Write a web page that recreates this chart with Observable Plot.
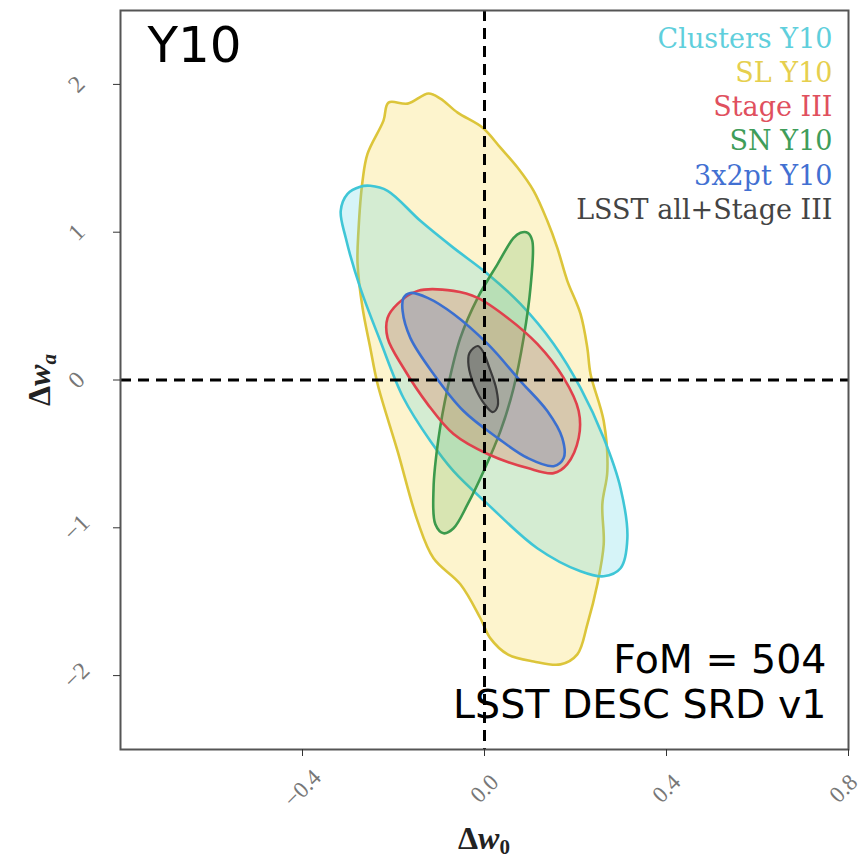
<!DOCTYPE html>
<html><head><meta charset="utf-8">
<script src="https://cdn.jsdelivr.net/npm/d3@7"></script>
<script src="https://cdn.jsdelivr.net/npm/@observablehq/plot@0.6"></script>
<style>body{margin:0;background:#fff} #chart{width:864px;height:861px}</style>
</head><body><div id="chart"></div>
<script>
// ---- data (Δw0, Δwa) contour outlines ----
const slY10 = [[-0.211,1.877],[-0.169,1.870],[-0.123,1.938],[-0.097,1.904],[-0.059,1.809],[-0.004,1.707],[0.035,1.572],[0.073,1.436],[0.108,1.280],[0.138,1.077],[0.160,0.894],[0.182,0.671],[0.211,0.447],[0.226,0.217],[0.233,0.041],[0.262,-0.278],[0.270,-0.617],[0.259,-0.840],[0.262,-1.111],[0.248,-1.382],[0.226,-1.653],[0.204,-1.856],[0.167,-1.924],[0.108,-1.904],[0.051,-1.856],[0.013,-1.748],[-0.009,-1.612],[-0.053,-1.382],[-0.112,-1.206],[-0.147,-0.955],[-0.191,-0.481],[-0.235,-0.027],[-0.251,0.217],[-0.268,0.488],[-0.279,0.786],[-0.277,1.009],[-0.268,1.348],[-0.257,1.531],[-0.222,1.755]];
const clustersY10 = [[-0.251,1.314],[-0.213,1.280],[-0.141,1.077],[-0.068,0.894],[0.007,0.718],[0.079,0.515],[0.152,0.244],[0.211,-0.054],[0.262,-0.393],[0.299,-0.732],[0.314,-1.070],[0.299,-1.274],[0.262,-1.328],[0.211,-1.294],[0.116,-1.138],[0.007,-0.840],[-0.068,-0.617],[-0.119,-0.413],[-0.178,-0.122],[-0.229,0.264],[-0.273,0.623],[-0.305,0.962],[-0.316,1.145],[-0.301,1.260],[-0.273,1.308]];
const snY10 = [[0.095,0.996],[0.105,0.942],[0.101,0.623],[0.086,0.285],[0.064,-0.054],[0.035,-0.346],[-0.002,-0.617],[-0.037,-0.840],[-0.068,-1.003],[-0.090,-1.037],[-0.108,-0.976],[-0.112,-0.732],[-0.101,-0.393],[-0.081,-0.054],[-0.053,0.285],[-0.015,0.556],[0.029,0.786],[0.064,0.962],[0.079,0.996]];
const stageIII = [[-0.213,0.420],[-0.191,0.515],[-0.147,0.603],[-0.068,0.603],[-0.015,0.556],[0.051,0.420],[0.116,0.244],[0.174,0.014],[0.207,-0.210],[0.207,-0.393],[0.182,-0.569],[0.152,-0.630],[0.095,-0.596],[0.007,-0.501],[-0.068,-0.366],[-0.125,-0.163],[-0.178,0.081],[-0.213,0.285]];
const x2ptY10 = [[-0.163,0.589],[-0.178,0.556],[-0.180,0.467],[-0.163,0.285],[-0.112,0.041],[-0.046,-0.210],[0.029,-0.393],[0.095,-0.528],[0.152,-0.583],[0.174,-0.528],[0.171,-0.393],[0.138,-0.210],[0.079,-0.007],[0.007,0.244],[-0.068,0.447],[-0.125,0.556]];
const lsstAll = [[-0.015,0.230],[-0.033,0.183],[-0.035,0.095],[-0.022,-0.041],[0.000,-0.163],[0.018,-0.217],[0.029,-0.176],[0.026,-0.061],[0.011,0.081],[-0.004,0.196]];

const drawOrder = [slY10, clustersY10, snY10, stageIII, x2ptY10, lsstAll];
const strokeColors = ["#dcc53a", "#3fc6d6", "#3c9a4c", "#e0414c", "#3b6fcf", "#3a3a3a"];
const fillColors   = ["#f7dc5a", "#5ad2e2", "#55b050", "#e05a40", "#4a62c0", "#505050"];
const fillOpacities = [0.3, 0.25, 0.22, 0.25, 0.22, 0.4];

const legendLabels = ["Clusters Y10", "SL Y10", "Stage III", "SN Y10", "3x2pt Y10", "LSST all+Stage III"];
const legendColors = ["#5fcfdc", "#e6cf4e", "#e0505e", "#3f9d5a", "#4270d2", "#444444"];

const xTicks = [-0.4, 0.0, 0.4, 0.8];
const xTickLabels = ["\u22120.4", "0.0", "0.4", ""];
const xEdgeTick = [0.8];
const xEdgeTickLabel = ["0.8"];
const yTicks = [-2, -1, 0, 1, 2];
const yTickLabels = ["\u22122", "\u22121", "0", "1", "2"];

const marks = [];
drawOrder.forEach((pts, i) => {
  marks.push(Plot.line(pts, {
    x: d => d[0], y: d => d[1], curve: "catmull-rom-closed",
    fill: fillColors[i], fillOpacity: fillOpacities[i],
    stroke: strokeColors[i], strokeWidth: i === 5 ? 2.2 : 2.6
  }));
});
marks.push(Plot.ruleX([0], {stroke: "black", strokeWidth: 3, strokeDasharray: "11,7"}));
marks.push(Plot.ruleY([0], {stroke: "black", strokeWidth: 3, strokeDasharray: "11,7"}));
marks.push(Plot.frame({stroke: "#555", strokeWidth: 2}));
const xAxisOpts = {tickRotate: -45, textAnchor: "middle", lineAnchor: "middle", stroke: "#333", fill: "#777", fontSize: 23, label: null};
marks.push(Plot.axisX(xTicks, {...xAxisOpts, tickSize: 7, tickPadding: 32, tickFormat: (d, i) => xTickLabels[i]}));
marks.push(Plot.axisX(xEdgeTick, {...xAxisOpts, tickSize: 0, tickPadding: 39, tickFormat: (d, i) => xEdgeTickLabel[i], dx: -5}));
marks.push(Plot.axisY(yTicks, {tickFormat: (d, i) => yTickLabels[i], tickRotate: -45, textAnchor: "middle", lineAnchor: "middle", tickSize: 7, tickPadding: 37, stroke: "#333", fill: "#777", fontSize: 24, label: null}));
marks.push(Plot.text(["Y10"], {frameAnchor: "top-left", dx: 27, dy: 16, textAnchor: "start", lineAnchor: "top", fontSize: 50, fontFamily: "DejaVu Sans", fill: "black"}));
legendLabels.forEach((t, i) => {
  marks.push(Plot.text([t], {frameAnchor: "top-right", dx: -16, dy: 37 + i * 34.3, textAnchor: "end", lineAnchor: "bottom", fontSize: 27, fontFamily: "DejaVu Serif", fill: legendColors[i]}));
});
marks.push(Plot.text(["FoM = 504"], {frameAnchor: "bottom-right", dx: -22, dy: -77, textAnchor: "end", lineAnchor: "bottom", fontSize: 39.5, fontFamily: "DejaVu Sans", fill: "black"}));
marks.push(Plot.text(["LSST DESC SRD v1"], {frameAnchor: "bottom-right", dx: -22, dy: -32, textAnchor: "end", lineAnchor: "bottom", fontSize: 39.5, fontFamily: "DejaVu Sans", fill: "black"}));

const chart = Plot.plot({
  width: 864, height: 861,
  marginLeft: 120, marginRight: 16, marginTop: 10, marginBottom: 112,
  x: {domain: [-0.8, 0.8]},
  y: {domain: [-2.5, 2.5]},
  style: {fontFamily: "Liberation Serif", background: "white", overflow: "visible"},
  marks
});
document.getElementById("chart").appendChild(chart);

// axis titles with italic w and subscript
const svg = d3.select(chart);
const xl = svg.append("text").attr("x", 484).attr("y", 849).attr("text-anchor", "middle")
  .attr("font-family", "Liberation Serif").attr("font-size", 32).attr("font-weight", "bold").attr("fill", "#222");
xl.append("tspan").text("\u0394");
xl.append("tspan").attr("font-style", "italic").text("w");
xl.append("tspan").attr("font-size", 21).attr("dy", 5).text("0");
const yl = svg.append("text").attr("transform", "translate(50,380) rotate(-90)").attr("text-anchor", "middle")
  .attr("font-family", "Liberation Serif").attr("font-size", 32).attr("font-weight", "bold").attr("fill", "#222");
yl.append("tspan").text("\u0394");
yl.append("tspan").attr("font-style", "italic").text("w");
yl.append("tspan").attr("font-size", 21).attr("font-style", "italic").attr("dy", 6).text("a");
</script></body></html>
